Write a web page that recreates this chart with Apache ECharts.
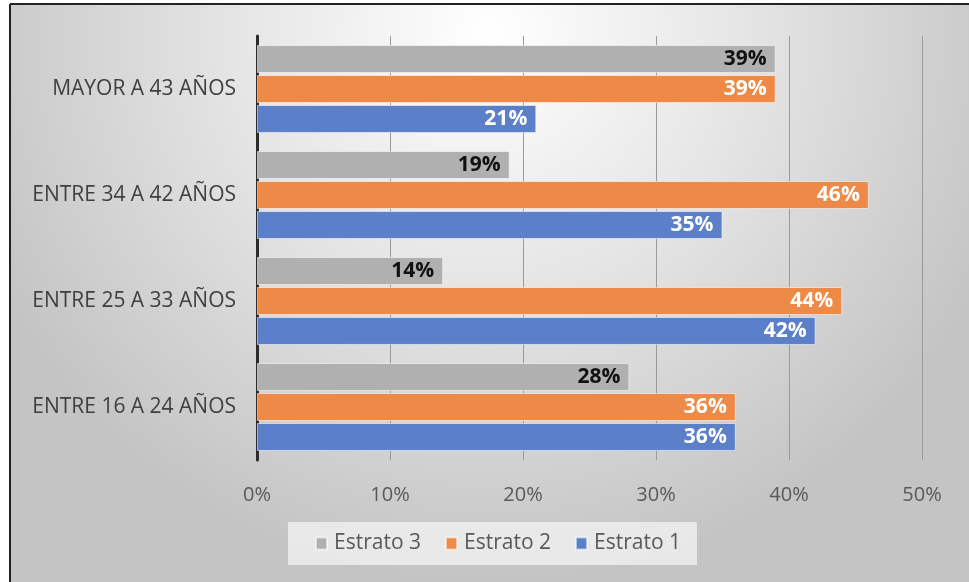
<!DOCTYPE html>
<html>
<head>
<meta charset="utf-8">
<script src="https://cdn.jsdelivr.net/npm/echarts@6/dist/echarts.min.js"></script>
<style>
  html, body { margin: 0; padding: 0; background: #ffffff; }
  #chart { width: 969px; height: 582px; }
</style>
</head>
<body>
<div id="chart"></div>
<script>
// Age groups, bottom to top on the category axis
const categories = ['ENTRE 16 A 24 AÑOS', 'ENTRE 25 A 33 AÑOS', 'ENTRE 34 A 42 AÑOS', 'MAYOR A 43 AÑOS'];
// Share of each stratum per age group (%)
const estrato1 = [36, 42, 35, 21];
const estrato2 = [36, 44, 46, 39];
const estrato3 = [28, 14, 19, 39];
const xTicks = [0, 10, 20, 30, 40, 50];

const FONT = '"Open Sans", "Noto Sans", sans-serif';

function barSeries(name, data, color, labelColor) {
  return {
    name: name,
    type: 'bar',
    data: data,
    barWidth: 28,
    barGap: '7%',
    itemStyle: { color: color, borderColor: 'rgba(255,255,255,0.55)', borderWidth: 1 },
    label: {
      show: true,
      position: 'insideRight',
      distance: 9,
      formatter: p => p.value + '%',
      color: labelColor,
      fontFamily: FONT,
      fontWeight: 'bold',
      fontSize: 21
    }
  };
}

const chart = echarts.init(document.getElementById('chart'), null, { renderer: 'canvas' });
chart.setOption({
  backgroundColor: '#ffffff',
  animation: false,
  graphic: [
    {
      type: 'rect', z: -10, silent: true,
      shape: { x: 10, y: 4, width: 959, height: 578 },
      style: {
        fill: {
          type: 'radial', x: 0.5, y: 0.05, r: 0.95,
          colorStops: [
            { offset: 0, color: '#ffffff' },
            { offset: 0.45, color: '#e6e6e6' },
            { offset: 1, color: '#c4c4c4' }
          ]
        }
      }
    },
    { type: 'line', z: -5, silent: true, shape: { x1: 10, y1: 4, x2: 969, y2: 4 }, style: { stroke: '#222', lineWidth: 2 } },
    { type: 'line', z: -5, silent: true, shape: { x1: 10, y1: 4, x2: 10, y2: 582 }, style: { stroke: '#222', lineWidth: 2 } }
  ],
  grid: { left: 257, right: 47, top: 36, bottom: 122, containLabel: false },
  legend: {
    data: ['Estrato 3', 'Estrato 2', 'Estrato 1'],
    left: 288,
    top: 522,
    padding: [11, 16, 11, 27],
    backgroundColor: 'rgba(236,236,236,0.9)',
    itemWidth: 11,
    itemHeight: 12,
    itemGap: 24,
    icon: 'rect',
    textStyle: { fontFamily: FONT, fontSize: 21, color: '#595959', padding: [0, 0, 0, 2] }
  },
  xAxis: {
    type: 'value',
    min: xTicks[0],
    max: xTicks[xTicks.length - 1],
    interval: 10,
    axisLine: { show: false },
    axisTick: { show: false },
    splitLine: { show: true, lineStyle: { color: '#9a9a9a', width: 1 } },
    axisLabel: {
      formatter: v => v + '%',
      margin: 25,
      fontFamily: FONT,
      fontSize: 20,
      color: '#595959'
    }
  },
  yAxis: {
    type: 'category',
    data: categories,
    axisLine: { show: true, lineStyle: { color: '#2b2b2b', width: 3 } },
    axisTick: { show: false },
    axisLabel: {
      margin: 21,
      fontFamily: FONT,
      fontSize: 21,
      color: '#404040'
    }
  },
  series: [
    barSeries('Estrato 3', estrato3, '#b0b0b0', '#111111'),
    barSeries('Estrato 2', estrato2, '#ee8a48', '#ffffff'),
    barSeries('Estrato 1', estrato1, '#5b80c9', '#ffffff')
  ]
});
</script>
</body>
</html>
